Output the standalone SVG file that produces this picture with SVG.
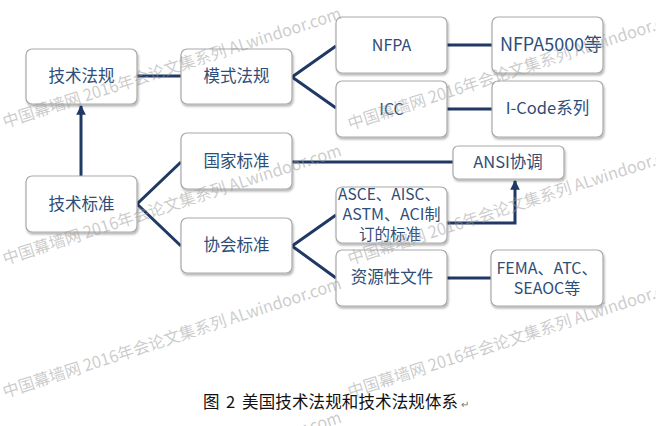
<svg xmlns="http://www.w3.org/2000/svg" width="656" height="426" viewBox="0 0 656 426">
<style>
.box{fill:#ffffff;stroke:#a9a9a9;stroke-width:1.2;filter:url(#sh)}
.t{font-family:"Noto Sans CJK SC","Liberation Sans",sans-serif;font-size:16.5px;fill:#2e4d78;text-anchor:middle}
.c{fill:none;stroke:#1f3864;stroke-width:3;stroke-linejoin:miter}
.wm{font-family:"Noto Sans CJK SC","Liberation Sans",sans-serif;font-size:16.5px;fill:#9a9a9a;fill-opacity:0.5}
.cap{font-family:"Noto Sans CJK SC","Liberation Sans",sans-serif;font-size:16.5px;fill:#111111}
</style>
<defs>
<filter id="sh" x="-10%" y="-10%" width="125%" height="135%">
<feDropShadow dx="1" dy="2" stdDeviation="1.3" flood-color="#000" flood-opacity="0.3"/>
</filter>
<marker id="ah" viewBox="0 0 10 10" refX="9" refY="5" markerWidth="3.2" markerHeight="3.2" orient="auto" markerUnits="strokeWidth">
<path d="M0,0 L10,5 L0,10 z" fill="#1f3864"/>
</marker>
</defs>
<rect width="656" height="426" fill="#ffffff"/>
<g id="connectors">
<line class="c" x1="137" y1="76" x2="181" y2="76"/>
<polyline class="c" points="336,46 292,77 336,108"/>
<line class="c" x1="447" y1="45" x2="492" y2="45"/>
<line class="c" x1="447" y1="109" x2="492" y2="109"/>
<line class="c" x1="292" y1="162" x2="453" y2="162"/>
<polyline class="c" points="181,162 137,204 181,246"/>
<polyline class="c" points="336,215 292,246 336,278"/>
<line class="c" x1="447" y1="278" x2="491" y2="278"/>
<polyline class="c" points="447,223 515,223 515,181" marker-end="url(#ah)"/>
<line class="c" x1="81" y1="176" x2="81" y2="106" marker-end="url(#ah)"/>
</g>
<g id="n1"><rect class="box" x="26" y="49" width="111" height="55" rx="6"/><text class="t" x="81.5" y="82">技术法规</text></g>
<g id="n2"><rect class="box" x="181" y="49" width="111" height="55" rx="6"/><text class="t" x="236.5" y="82">模式法规</text></g>
<g id="n3"><rect class="box" x="181" y="133" width="111" height="56" rx="6"/><text class="t" x="236.5" y="167">国家标准</text></g>
<g id="n4"><rect class="box" x="26" y="176" width="111" height="56" rx="6"/><text class="t" x="81.5" y="210">技术标准</text></g>
<g id="n5"><rect class="box" x="181" y="218" width="111" height="55" rx="6"/><text class="t" x="236.5" y="251">协会标准</text></g>
<g id="n6"><rect class="box" x="336" y="17" width="111" height="56" rx="6"/><text class="t" x="391.5" y="51" style="font-size:16px">NFPA</text></g>
<g id="n7"><rect class="box" x="336" y="81" width="111" height="56" rx="6"/><text class="t" x="391.5" y="115" style="font-size:16px">ICC</text></g>
<g id="n8"><rect class="box" x="492" y="17" width="111" height="56" rx="6"/><text class="t" x="551" y="51" style="font-size:18px">NFPA5000等</text></g>
<g id="n9"><rect class="box" x="492" y="81" width="111" height="56" rx="6"/><text class="t" x="547.5" y="114">I-Code系列</text></g>
<g id="n10"><rect class="box" x="453" y="146" width="111" height="33" rx="5"/><text class="t" x="508" y="168">ANSI协调</text></g>
<g id="n11"><rect class="box" x="336" y="187" width="111" height="56" rx="6"/>
<text class="t" x="389" y="200" style="font-size:15.5px">ASCE、AISC、</text>
<text class="t" x="391.5" y="219.5" style="font-size:16px">ASTM、ACI制</text>
<text class="t" x="390" y="239.5" style="font-size:15.5px">订的标准</text></g>
<g id="n12"><rect class="box" x="336" y="250" width="111" height="56" rx="6"/><text class="t" x="392" y="283">资源性文件</text></g>
<g id="n13"><rect class="box" x="491" y="250" width="112" height="56" rx="6"/>
<text class="t" x="547" y="274" style="font-size:16px">FEMA、ATC、</text>
<text class="t" x="547" y="294" style="font-size:16px">SEAOC等</text></g>
<text class="cap" y="408"><tspan x="203">图</tspan><tspan x="226">2</tspan><tspan x="242" textLength="216" lengthAdjust="spacing">美国技术法规和技术法规体系</tspan><tspan x="461" font-size="10" fill="#777777">↵</tspan></text>
<g id="watermarks">
<text class="wm" transform="translate(5,128) rotate(-18)" textLength="355" lengthAdjust="spacingAndGlyphs">中国幕墙网 2016年会论文集系列 ALwindoor.com</text>
<text class="wm" transform="translate(5,265) rotate(-18)" textLength="355" lengthAdjust="spacingAndGlyphs">中国幕墙网 2016年会论文集系列 ALwindoor.com</text>
<text class="wm" transform="translate(5,398) rotate(-18)" textLength="355" lengthAdjust="spacingAndGlyphs">中国幕墙网 2016年会论文集系列 ALwindoor.com</text>
<text class="wm" transform="translate(5,532) rotate(-18)" textLength="355" lengthAdjust="spacingAndGlyphs">中国幕墙网 2016年会论文集系列 ALwindoor.com</text>
<text class="wm" transform="translate(350,130) rotate(-18)" textLength="355" lengthAdjust="spacingAndGlyphs">中国幕墙网 2016年会论文集系列 ALwindoor.com</text>
<text class="wm" transform="translate(350,265) rotate(-18)" textLength="355" lengthAdjust="spacingAndGlyphs">中国幕墙网 2016年会论文集系列 ALwindoor.com</text>
<text class="wm" transform="translate(350,398) rotate(-18)" textLength="355" lengthAdjust="spacingAndGlyphs">中国幕墙网 2016年会论文集系列 ALwindoor.com</text>
</g>
</svg>
